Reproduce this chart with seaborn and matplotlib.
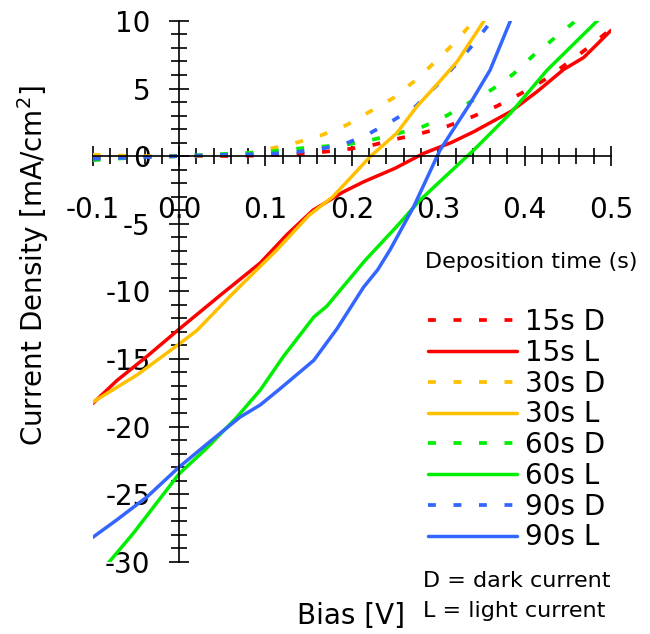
import numpy as np
import pandas as pd
import matplotlib
matplotlib.use('Agg')
import matplotlib.pyplot as plt
import seaborn as sns
from matplotlib.ticker import MultipleLocator

# data (bias in V, current density in mA/cm2)
x_15d = [-0.1, -0.05, 0.0, 0.05, 0.1, 0.136, 0.165, 0.194, 0.223, 0.254, 0.281, 0.31, 0.339, 0.368, 0.395, 0.422, 0.449, 0.472, 0.5]
y_15d = [-0.1, -0.05, 0.0, 0.0, 0.05, 0.15, 0.3, 0.5, 0.8, 1.3, 1.7, 2.2, 2.9, 3.7, 4.6, 5.6, 6.85, 7.95, 9.4]
x_30d = [-0.1, -0.05, 0.0, 0.05, 0.08, 0.109, 0.136, 0.165, 0.194, 0.221, 0.248, 0.2735, 0.2986, 0.32, 0.341, 0.36]
y_30d = [0.1, 0.0, 0.0, 0.05, 0.2, 0.6, 1.0, 1.55, 2.3, 3.3, 4.3, 5.6, 7.1, 8.45, 10.0, 11.2]
x_60d = [-0.1, -0.05, 0.0, 0.05, 0.1, 0.136, 0.165, 0.194, 0.223, 0.252, 0.283, 0.31, 0.337, 0.364, 0.3875, 0.411, 0.434, 0.459, 0.48]
y_60d = [-0.3, -0.1, 0.0, 0.15, 0.3, 0.55, 0.7, 0.85, 1.2, 1.65, 2.2, 3.0, 4.0, 5.0, 6.1, 7.5, 8.7, 10.0, 11.2]
x_90d = [-0.1, -0.05, 0.0, 0.05, 0.1, 0.136, 0.165, 0.194, 0.221, 0.248, 0.2735, 0.2986, 0.32, 0.341, 0.358, 0.375]
y_90d = [-0.2, -0.1, 0.0, 0.1, 0.15, 0.3, 0.55, 0.95, 1.7, 2.65, 3.65, 5.25, 6.75, 8.3, 9.7, 11.0]

x_15l = [-0.1, -0.072, -0.037, 0.0, 0.0475, 0.094, 0.125, 0.155, 0.19, 0.2136, 0.25, 0.283, 0.315, 0.341, 0.384, 0.415, 0.445, 0.4685, 0.5]
y_15l = [-18.3, -16.6, -14.8, -12.8, -10.3, -7.9, -5.8, -4.0, -2.65, -1.9, -0.9, 0.2, 1.0, 1.8, 3.3, 4.8, 6.4, 7.3, 9.3]
x_30l = [-0.1, -0.049, 0.0, 0.0205, 0.06, 0.113, 0.15, 0.178, 0.2, 0.221, 0.252, 0.275, 0.3, 0.322, 0.353, 0.36]
y_30l = [-18.2, -16.2, -13.9, -12.9, -10.3, -6.95, -4.4, -3.0, -1.5, -0.05, 1.7, 3.65, 5.4, 7.0, 10.0, 10.6]
x_60l = [-0.1, -0.082, -0.053, 0.0, 0.032, 0.067, 0.094, 0.121, 0.156, 0.171, 0.2155, 0.252, 0.279, 0.31, 0.341, 0.3835, 0.426, 0.484, 0.5]
y_60l = [-31.5, -30.1, -27.9, -23.5, -21.6, -19.3, -17.3, -14.8, -11.9, -11.1, -7.7, -5.2, -3.25, -1.4, 0.44, 3.16, 6.36, 10.0, 11.0]
x_90l = [-0.1, -0.072, -0.037, 0.0, 0.036, 0.0707, 0.094, 0.117, 0.156, 0.183, 0.2135, 0.23, 0.2445, 0.2715, 0.302, 0.337, 0.36, 0.3835, 0.39]
y_90l = [-28.2, -26.9, -25.2, -23.0, -21.1, -19.3, -18.4, -17.2, -15.1, -12.75, -9.7, -8.4, -6.9, -3.75, 0.44, 3.9, 6.36, 10.0, 10.8]

series_labels = ['15s D', '15s L', '30s D', '30s L', '60s D', '60s L', '90s D', '90s L']
series_x = [x_15d, x_15l, x_30d, x_30l, x_60d, x_60l, x_90d, x_90l]
series_y = [y_15d, y_15l, y_30d, y_30l, y_60d, y_60l, y_90d, y_90l]
series_colors = ['#ff0000', '#ff0000', '#ffc000', '#ffc000', '#00ee00', '#00ee00', '#3366ff', '#3366ff']

sns.set_style('white')
plt.rcParams['font.family'] = ['DejaVu Sans']
plt.rcParams['text.color'] = 'black'
plt.rcParams['xtick.color'] = 'black'
plt.rcParams['ytick.color'] = 'black'
plt.rcParams['axes.labelcolor'] = 'black'

fig = plt.figure(figsize=(6.5, 6.34), dpi=100)
ax = fig.add_axes([0.1426, 0.114, 0.940 - 0.1426, 0.967 - 0.114])

handles = {}
# dark curves first, light curves on top
for dark in (True, False):
    for lab, xs, ys, col in zip(series_labels, series_x, series_y, series_colors):
        if lab.endswith('D') != dark:
            continue
        df = pd.DataFrame({'bias': xs, 'j': ys})
        sns.lineplot(data=df, x='bias', y='j', ax=ax, color=col, sort=False,
                     estimator=None, lw=2.7 if dark else 2.5)
        ln = ax.lines[-1]
        if dark:
            ln.set_dashes((2.1, 4.7))
        handles[lab] = ln

ax.set_xlim(-0.1, 0.5)
ax.set_ylim(-30, 10)
ax.set_xlabel('')
ax.set_ylabel('')
for s in ['top', 'right']:
    ax.spines[s].set_visible(False)
ax.spines['left'].set_position(('data', 0))
ax.spines['bottom'].set_position(('data', 0))
for s in ['left', 'bottom']:
    ax.spines[s].set_color('black')
    ax.spines[s].set_linewidth(1.2)

ax.xaxis.set_major_locator(MultipleLocator(0.1))
ax.xaxis.set_minor_locator(MultipleLocator(0.02))
ax.yaxis.set_major_locator(MultipleLocator(5))
ax.yaxis.set_minor_locator(MultipleLocator(1))
ax.tick_params(which='both', bottom=True, left=True, top=False, right=False)
ax.tick_params(which='major', direction='inout', length=15, width=1.2, color='black',
               labelsize=20, labelcolor='black')
ax.tick_params(which='minor', direction='inout', length=12, width=1.2, color='black')
ax.tick_params(axis='x', which='major', pad=21)
ax.tick_params(axis='y', which='major', pad=13)
ax.set_yticks([10, 5, 0, -5, -10, -15, -20, -25, -30])
ax.set_yticklabels(['10', '5', '0', '-5', '-10', '-15', '-20', '-25', '-30'])
ax.set_xticks([-0.1, 0.0, 0.1, 0.2, 0.3, 0.4, 0.5])
ax.set_xticklabels(['-0.1', '0.0', '0.1', '0.2', '0.3', '0.4', '0.5'])

leg = ax.legend([handles[l] for l in series_labels], series_labels,
                loc='upper left', bbox_to_anchor=(428 / 650, 1 - 308 / 634),
                bbox_transform=fig.transFigure, frameon=False, fontsize=20,
                handlelength=3.2, handletextpad=0.3, labelspacing=0.1,
                borderpad=0, borderaxespad=0)

fig.text(425 / 650, 1 - 262 / 634, 'Deposition time (s)', fontsize=16, va='center', ha='left')
fig.text(423 / 650, 1 - 581 / 634, 'D = dark current', fontsize=16, va='center', ha='left')
fig.text(423 / 650, 1 - 611 / 634, 'L = light current', fontsize=16, va='center', ha='left')
fig.text(351 / 650, 1 - 616 / 634, 'Bias [V]', fontsize=20, va='center', ha='center')
fig.text(33 / 650, 1 - 266 / 634, 'Current Density [mA/cm$^{2}$]', fontsize=20,
         va='center', ha='center', rotation=90)

fig.savefig('out.png', dpi=100)
